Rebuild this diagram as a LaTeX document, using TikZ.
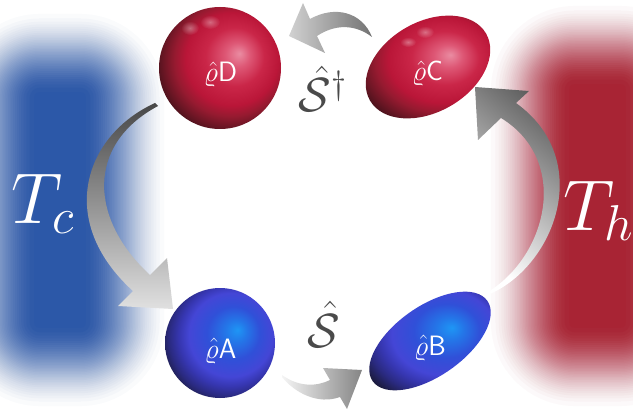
\RequirePackage{fix-cm}
\documentclass[tikz,border=0pt]{standalone}
\usetikzlibrary{fadings}

\definecolor{coldbath}{HTML}{2C58A8}
\definecolor{hotbath}{HTML}{A82434}
\definecolor{opgray}{HTML}{4A4A4A}

% soft round mask for glints
\tikzfading[name=glintfade, inner color=transparent!0, outer color=transparent!100]

% glossy orbs: offset radial shadings
\pgfdeclareradialshading{redorb}{\pgfpoint{8bp}{6bp}}{%
  color(0bp)=(rgb,255:red,234;green,140;blue,162);
  color(5bp)=(rgb,255:red,222;green,88;blue,118);
  color(12bp)=(rgb,255:red,202;green,38;blue,72);
  color(19bp)=(rgb,255:red,186;green,22;blue,56);
  color(23bp)=(rgb,255:red,150;green,26;blue,48);
  color(27bp)=(rgb,255:red,106;green,22;blue,36);
  color(31bp)=(rgb,255:red,60;green,16;blue,24);
  color(50bp)=(rgb,255:red,60;green,16;blue,24)}
\pgfdeclareradialshading{blueorb}{\pgfpoint{8bp}{6bp}}{%
  color(0bp)=(rgb,255:red,30;green,150;blue,245);
  color(5bp)=(rgb,255:red,36;green,118;blue,232);
  color(12bp)=(rgb,255:red,48;green,80;blue,216);
  color(19bp)=(rgb,255:red,68;green,70;blue,214);
  color(23bp)=(rgb,255:red,54;green,54;blue,176);
  color(27bp)=(rgb,255:red,42;green,42;blue,128);
  color(31bp)=(rgb,255:red,28;green,28;blue,64);
  color(50bp)=(rgb,255:red,28;green,28;blue,64)}

\begin{document}
\begin{tikzpicture}[x=1pt,y=-1pt,
  orblabel/.style={text=white, font=\fontsize{28}{32}\selectfont, anchor=base, inner sep=0pt},
  oplabel/.style={text=opgray, font=\fontsize{48}{52}\selectfont, anchor=base, inner sep=0pt},
  templabel/.style={text=white, font=\fontsize{72}{80}\selectfont, anchor=base west, inner sep=0pt},
  gloss/.style={white, path fading=glintfade, opacity=0.35}]

\useasboundingbox (0,0) rectangle (633,412);
\clip (0,0) rectangle (633,412);
\fill[white] (0,0) rectangle (633,412);

% soft-edged heat baths: nested translucent layers whose summed
% opacity follows a smoothstep across a 90pt wide edge
\foreach \k in {1,...,40}{
  \pgfmathsetmacro\t{0.5-sin(asin(1-2*(\k-0.5)/40)/3)}
  \pgfmathsetmacro\e{45-90*\t}
  \pgfmathsetmacro\r{max(\e+45,0.01)}
  \pgfmathsetmacro\a{1/(41-\k)}
  \fill[coldbath, opacity=\a, rounded corners=\r pt]
    (-5-\e,53-\e) rectangle (125+\e,367+\e);
  \fill[hotbath, opacity=\a, rounded corners=\r pt]
    (530-\e,45-\e) rectangle (665+\e,367+\e);
}

\node[templabel] (Tc) at (11,223) {$T_c$};
\node[templabel] (Th) at (563,230) {$T_h$};

% states
\coordinate (A) at (220,343);
\coordinate (B) at (430,341);
\coordinate (C) at (428,67);
\coordinate (D) at (220,68);

\shade[shading=redorb] (D) circle [radius=61];
\shade[shading=redorb, rotate around={30:(C)}] (C) ellipse [x radius=67, y radius=45];
\shade[shading=blueorb] (A) circle [radius=55];
\shade[shading=blueorb, rotate around={35:(B)}] (B) ellipse [x radius=70, y radius=35];

% specular glints
\fill[gloss] (190,28) ellipse [x radius=9, y radius=7];
\fill[gloss] (210,22) ellipse [x radius=10, y radius=7];
\fill[gloss] (408,42) ellipse [x radius=8, y radius=5];
\fill[gloss] (425,32) ellipse [x radius=9, y radius=6];

\node[orblabel] (rhoD) at (220.5,82) {$\hat{\varrho}$\textsf{D}};
\node[orblabel] (rhoC) at (427.5,81) {$\hat{\varrho}$\textsf{C}};
\node[orblabel] (rhoA) at (220.5,358) {$\hat{\varrho}$\textsf{A}};
\node[orblabel] (rhoB) at (430,355) {$\hat{\varrho}$\textsf{B}};

\node[oplabel] (Sdag) at (323,112) {$\hat{\mathcal{S}}^{\dagger}$};
\node[oplabel] (S) at (323.5,347) {$\hat{\mathcal{S}}$};

% process arrows
% C -> D
\shade[left color=black!18, right color=black!55]
  (289,36) -- (303,3) -- (310,19)
  .. controls (335,5) and (362,12) .. (372,37)
  .. controls (355,24) and (335,24) .. (317,36)
  -- (325,53) -- cycle;
% D -> A
\shade[top color=black!72, bottom color=black!12]
  (155,103) .. controls (85,135) and (55,220) .. (133,291)
  -- (118,306) -- (173,309) -- (167,258) -- (150,275)
  .. controls (90,220) and (85,145) .. (158,106) -- cycle;
% A -> B
\shade[left color=black!4, right color=black!48]
  (282,375) .. controls (300,388) and (318,386) .. (330,380)
  -- (323,368) -- (362,370) -- (347,409) -- (340,397)
  .. controls (318,405) and (295,393) .. (282,377) -- cycle;
% B -> C
\shade[top color=black!68, bottom color=white, shading angle=-40]
  (490,294) .. controls (555,265) and (595,160) .. (516,103)
  -- (529,91) -- (475,87) -- (478,140) -- (501,118)
  .. controls (570,160) and (548,255) .. (488,292) -- cycle;
\end{tikzpicture}
\end{document}
